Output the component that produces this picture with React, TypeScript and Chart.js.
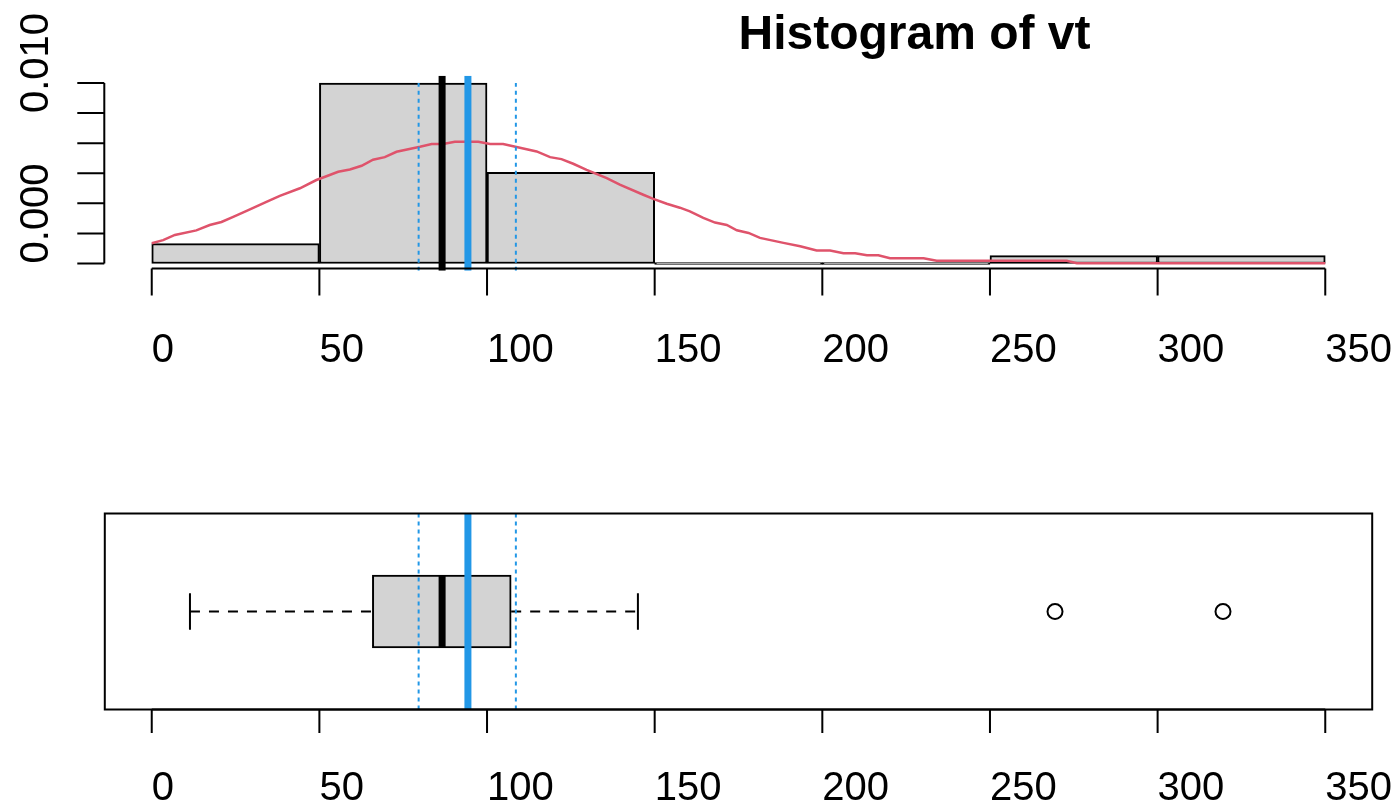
import React, { useEffect, useRef } from 'react';
import { Chart, registerables } from 'chart.js';

Chart.register(...registerables);

// ---------------- data ----------------
const TITLE = 'Histogram of vt';
const BIN_EDGES = [0, 50, 100, 150, 200, 250, 300, 350];
const BIN_DENSITY = [0.00132, 0.012, 0.00606, 0, 0, 0.00052, 0.00052];

const DENSITY_X = [
  0, 3.4, 6.9, 13.3, 17.3, 20.8, 24.3, 28.3, 34.2, 38.2, 44.2, 49.1, 52.1, 55.6, 59.1, 62.6, 66, 69.5, 73,
  76.5, 80, 83.5, 86.9, 90.4, 97.4, 100.9, 104.8, 108.8, 114.8, 118.8, 122.2, 125.7, 129.7, 135.7, 139.6,
  146.6, 149.6, 153.6, 157.5, 160.5, 164.5, 168, 171.5, 174.5, 178, 181.4, 188.4, 193.4, 198.3, 202.3,
  206.3, 209.8, 213.3, 216.7, 220.2, 230.2, 234.1, 272.9, 275.9, 350,
];
const DENSITY_Y = [
  0.00135, 0.00155, 0.0019, 0.0022, 0.00256, 0.00276, 0.0031, 0.0035, 0.0041, 0.0045, 0.005, 0.00555,
  0.0058, 0.0061, 0.00625, 0.0065, 0.0069, 0.00707, 0.00743, 0.0076, 0.00776, 0.00794, 0.00794, 0.0081,
  0.0081, 0.00794, 0.00794, 0.00774, 0.00745, 0.00707, 0.00694, 0.00663, 0.00623, 0.00568, 0.00524,
  0.00457, 0.0043, 0.00397, 0.00371, 0.00347, 0.00303, 0.00272, 0.00256, 0.00221, 0.00203, 0.0017,
  0.00137, 0.00115, 0.00086, 0.00086, 0.00068, 0.00068, 0.00055, 0.00055, 0.00035, 0.00035, 0.00018,
  0.00018, 0.00001, 0.00001,
];

const X_TICKS = [0, 50, 100, 150, 200, 250, 300, 350];
const Y_TICKS = [0, 0.002, 0.004, 0.006, 0.008, 0.01, 0.012];
const Y_TICK_LABELS = ['0.000', '', '', '', '', '0.010', ''];

const MEDIAN = 86.6;
const MEAN = 94.3;
const MEAN_CI = [79.6, 108.6];
// lower whisker, Q1, median, Q3, upper whisker
const BOX_FIVE = [11.4, 65.8, 86.6, 107.2, 145.0];
const OUTLIERS = [269.4, 319.5];

// ---------------- layout / style ----------------
const W = 1396;
const H1 = 400;
const H2 = 403;
const GRAY = '#D3D3D3';
const RED = '#DF536B';
const BLUE = '#2297E6';
const FONT = '"Liberation Sans", Arial, Helvetica, sans-serif';

const X_MIN = X_TICKS[0] - 0.04 * (X_TICKS[X_TICKS.length - 1] - X_TICKS[0]);
const X_MAX = X_TICKS[X_TICKS.length - 1] + 0.04 * (X_TICKS[X_TICKS.length - 1] - X_TICKS[0]);
const Y_TOP = Math.max(...BIN_DENSITY);
const Y_MIN = -0.04 * Y_TOP;
const Y_MAX = Y_TOP * 1.04;
const BOX_POS = 1;
const BOX_HALF = 0.2;
const CAP_HALF = 0.1;
const B_MIN = 0.46;
const B_MAX = 1.54;

const rAxes = {
  id: 'rAxes',
  afterDraw(chart: any, _args: any, opts: any) {
    const ctx = chart.ctx;
    const xs = chart.scales.x;
    const ys = chart.scales.y;
    const area = chart.chartArea;
    ctx.save();
    ctx.strokeStyle = '#000';
    ctx.fillStyle = '#000';
    ctx.lineWidth = 2;
    ctx.lineCap = 'butt';
    ctx.setLineDash([]);

    if (opts.frame) {
      ctx.strokeRect(area.left, area.top, area.right - area.left, area.bottom - area.top);
    }

    // x axis
    const xt = X_TICKS;
    const ay = opts.xAxisY;
    ctx.beginPath();
    ctx.moveTo(xs.getPixelForValue(xt[0]), ay);
    ctx.lineTo(xs.getPixelForValue(xt[xt.length - 1]), ay);
    for (const v of xt) {
      const px = xs.getPixelForValue(v);
      ctx.moveTo(px, ay);
      ctx.lineTo(px, ay + opts.tickLen);
    }
    ctx.stroke();
    ctx.font = '40px ' + FONT;
    ctx.textAlign = 'left';
    ctx.textBaseline = 'alphabetic';
    for (const v of xt) {
      ctx.fillText(String(v), xs.getPixelForValue(v), opts.xLabelY);
    }

    // y axis
    if (opts.yAxis) {
      const ax = opts.yAxisX;
      ctx.beginPath();
      ctx.moveTo(ax, ys.getPixelForValue(Y_TICKS[0]));
      ctx.lineTo(ax, ys.getPixelForValue(Y_TICKS[Y_TICKS.length - 1]));
      for (const v of Y_TICKS) {
        const py = ys.getPixelForValue(v);
        ctx.moveTo(ax, py);
        ctx.lineTo(ax - opts.tickLen, py);
      }
      ctx.stroke();
      Y_TICKS.forEach((v, i) => {
        const lab = Y_TICK_LABELS[i];
        if (!lab) return;
        ctx.save();
        ctx.translate(opts.yLabelX, ys.getPixelForValue(v));
        ctx.rotate(-Math.PI / 2);
        ctx.fillText(lab, 0, 0);
        ctx.restore();
      });
    }

    if (opts.title) {
      ctx.font = 'bold 48px ' + FONT;
      ctx.textAlign = 'left';
      ctx.fillText(TITLE, (area.left + area.right) / 2, opts.titleY);
    }
    ctx.restore();
  },
};

function vline(x: number, y0: number, y1: number, color: string, width: number, dash: number[], order: number) {
  return {
    type: 'line' as const,
    data: [
      { x, y: y0 },
      { x, y: y1 },
    ],
    borderColor: color,
    borderWidth: width,
    borderDash: dash,
    pointRadius: 0,
    fill: false,
    order,
  };
}

function hline(x0: number, x1: number, y: number, color: string, width: number, dash: number[], order: number) {
  return {
    type: 'line' as const,
    data: [
      { x: x0, y },
      { x: x1, y },
    ],
    borderColor: color,
    borderWidth: width,
    borderDash: dash,
    pointRadius: 0,
    fill: false,
    order,
  };
}

const xScale = (): any => ({
  type: 'linear',
  display: false,
  min: X_MIN,
  max: X_MAX,
  offset: false,
  afterBuildTicks: (s: any) => {
    s.ticks = X_TICKS.map((v) => ({ value: v }));
  },
});

export default function App() {
  const topRef = useRef<HTMLCanvasElement | null>(null);
  const botRef = useRef<HTMLCanvasElement | null>(null);

  useEffect(() => {
    const c1 = new Chart(topRef.current as HTMLCanvasElement, {
      type: 'bar',
      data: {
        datasets: [
          {
            type: 'bar',
            data: BIN_DENSITY.map((d, i) => ({ x: (BIN_EDGES[i] + BIN_EDGES[i + 1]) / 2, y: d })),
            backgroundColor: GRAY,
            borderColor: '#000',
            borderWidth: 2,
            borderSkipped: false,
            barPercentage: 1,
            categoryPercentage: 1,
            minBarLength: 2,
            order: 10,
          } as any,
          {
            type: 'line',
            data: DENSITY_X.map((x, i) => ({ x, y: DENSITY_Y[i] })),
            borderColor: RED,
            borderWidth: 2.5,
            pointRadius: 0,
            fill: false,
            order: 5,
          } as any,
          vline(MEAN_CI[0], Y_MIN, Y_TOP, BLUE, 2, [4, 4], 3) as any,
          vline(MEAN_CI[1], Y_MIN, Y_TOP, BLUE, 2, [4, 4], 3) as any,
          vline(MEDIAN, Y_MIN, Y_MAX, '#000', 7, [], 2) as any,
          vline(MEAN, Y_MIN, Y_MAX, BLUE, 7, [], 1) as any,
        ],
      },
      options: {
        animation: false,
        responsive: false,
        events: [],
        layout: { padding: { left: 104.8, right: W - 1372.2, top: 75.8, bottom: H1 - 270.7 } },
        plugins: {
          legend: { display: false },
          tooltip: { enabled: false },
          rAxes: {
            xAxisY: 268.5,
            tickLen: 27,
            xLabelY: 362,
            yAxis: true,
            yAxisX: 104.3,
            yLabelX: 48,
            title: true,
            titleY: 49,
          },
        } as any,
        scales: {
          x: xScale(),
          y: {
            type: 'linear',
            display: false,
            min: Y_MIN,
            max: Y_MAX,
            afterBuildTicks: (s: any) => {
              s.ticks = Y_TICKS.map((v) => ({ value: v }));
            },
          },
        },
      },
      plugins: [rAxes],
    });

    const c2 = new Chart(botRef.current as HTMLCanvasElement, {
      type: 'bar',
      data: {
        datasets: [
          {
            type: 'bar',
            indexAxis: 'y',
            data: [{ x: [BOX_FIVE[1], BOX_FIVE[3]], y: BOX_POS }],
            backgroundColor: GRAY,
            borderColor: '#000',
            borderWidth: 2,
            borderSkipped: false,
            barThickness: (c: any) => {
              const s = c.chart.scales.y;
              const v = s ? Math.abs(s.getPixelForValue(BOX_POS - BOX_HALF) - s.getPixelForValue(BOX_POS + BOX_HALF)) : NaN;
              return isFinite(v) && v > 0 ? v : 72;
            },
            order: 10,
          } as any,
          vline(BOX_FIVE[2], BOX_POS - BOX_HALF, BOX_POS + BOX_HALF, '#000', 7, [], 6) as any,
          hline(BOX_FIVE[0], BOX_FIVE[1], BOX_POS, '#000', 2, [10, 9], 6) as any,
          hline(BOX_FIVE[3], BOX_FIVE[4], BOX_POS, '#000', 2, [10, 9], 6) as any,
          vline(BOX_FIVE[0], BOX_POS - CAP_HALF, BOX_POS + CAP_HALF, '#000', 2, [], 6) as any,
          vline(BOX_FIVE[4], BOX_POS - CAP_HALF, BOX_POS + CAP_HALF, '#000', 2, [], 6) as any,
          {
            type: 'line',
            data: OUTLIERS.map((x) => ({ x, y: BOX_POS })),
            showLine: false,
            pointRadius: 7.5,
            pointBorderWidth: 2,
            pointBorderColor: '#000',
            pointBackgroundColor: 'rgba(0,0,0,0)',
            borderColor: '#000',
            order: 6,
          } as any,
          vline(MEAN_CI[0], B_MIN, B_MAX, BLUE, 2, [4, 4], 3) as any,
          vline(MEAN_CI[1], B_MIN, B_MAX, BLUE, 2, [4, 4], 3) as any,
          vline(MEAN, B_MIN, B_MAX, BLUE, 7, [], 1) as any,
        ],
      },
      options: {
        animation: false,
        responsive: false,
        events: [],
        layout: { padding: { left: 104.8, right: W - 1372.2, top: 513.5 - H1, bottom: H1 + H2 - 709.5 } },
        plugins: {
          legend: { display: false },
          tooltip: { enabled: false },
          rAxes: {
            xAxisY: 709.5 - H1,
            tickLen: 23.5,
            xLabelY: 800 - H1,
            yAxis: false,
            frame: true,
          },
        } as any,
        scales: {
          x: xScale(),
          y: { type: 'linear', display: false, min: B_MIN, max: B_MAX, offset: false },
        },
      },
      plugins: [rAxes],
    });

    return () => {
      c1.destroy();
      c2.destroy();
    };
  }, []);

  return (
    <div style={{ position: 'absolute', left: 0, top: 0, width: W, height: H1 + H2, background: '#fff', overflow: 'hidden' }}>
      <canvas ref={topRef} width={W} height={H1} style={{ position: 'absolute', left: 0, top: 0, display: 'block' }} />
      <canvas ref={botRef} width={W} height={H2} style={{ position: 'absolute', left: 0, top: H1, display: 'block' }} />
    </div>
  );
}
